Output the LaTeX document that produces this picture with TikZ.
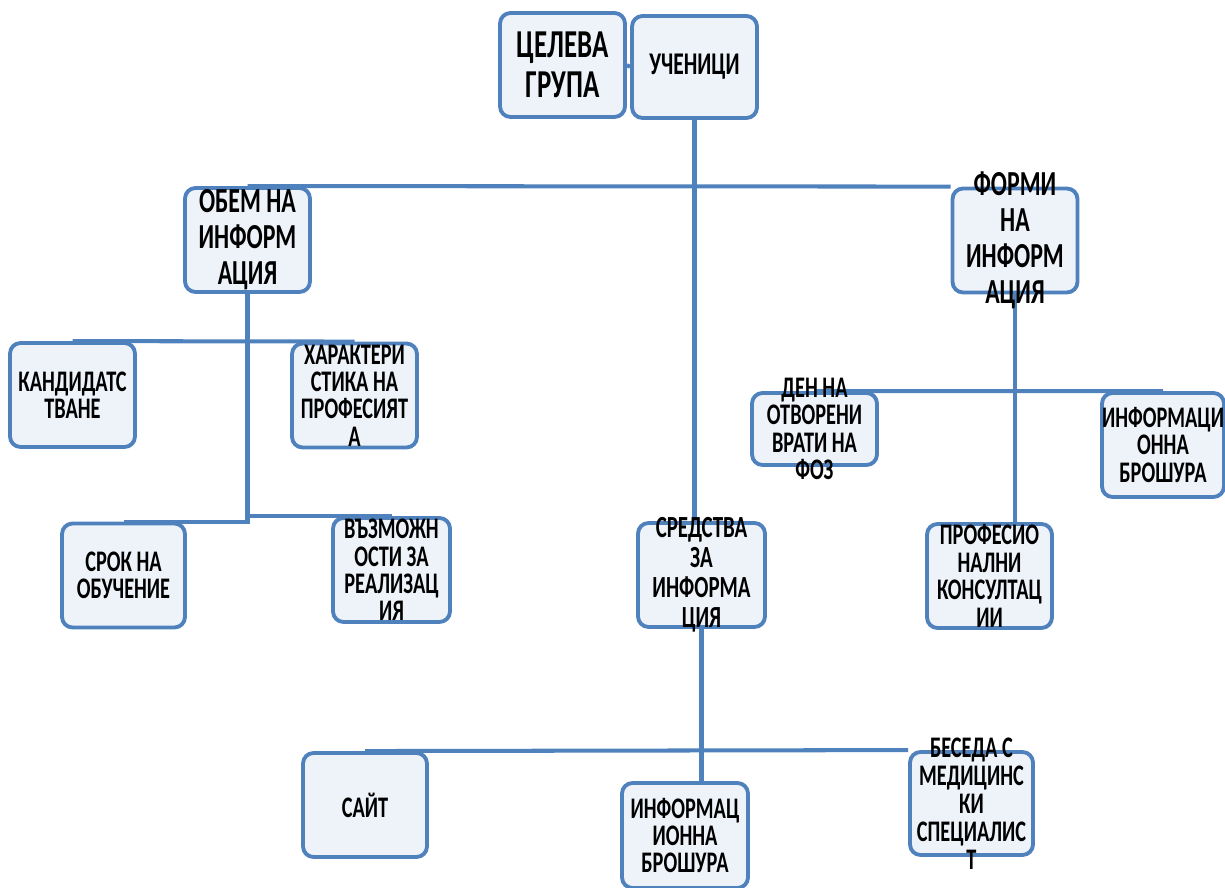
\documentclass[tikz,border=0pt]{standalone}
\usepackage{fontspec}
\setmainfont{Carlito}[FakeStretch=0.68]
\usetikzlibrary{calc}
\usetikzlibrary{backgrounds}
\definecolor{linkblue}{HTML}{4F81BD}
\definecolor{boxfill}{HTML}{EEF3FA}
\tikzset{
 blk/.style={draw=linkblue, fill=boxfill, line width=2.2pt, rounded corners=6pt, minimum width=2.5cm, minimum height=2.08cm, inner sep=0},
 txt/.style={font=\bfseries\fontsize{17}{15.6}\selectfont, align=center, inner sep=0},
 txtmid/.style={txt, font=\bfseries\fontsize{18}{19}\selectfont},
 txtbig/.style={txt, font=\bfseries\fontsize{20}{20.5}\selectfont},
 txthead/.style={txt, font=\bfseries\fontsize{22.5}{22.8}\selectfont},
 link/.style={linkblue, line width=2.3pt},
}
\begin{document}
\begin{tikzpicture}[x=0.02cm, y=-0.02cm]
\useasboundingbox (0,0) rectangle (1225,888);
% top
\node[blk, label={[txthead]center:{ЦЕЛЕВА\\ГРУПА}}] (celeva) at (562.5,65) {};
\node[blk, minimum height=2.04cm, label={[txtmid]center:{УЧЕНИЦИ}}] (ucenici) at (694.5,67) {};
% second row
\node[blk, label={[txtbig]center:{ОБЕМ НА\\ИНФОРМ\\АЦИЯ}}] (obem) at (247.5,240) {};
\node[blk, label={[txtbig]center:{ФОРМИ\\НА\\ИНФОРМ\\АЦИЯ}}] (formi) at (1015,240.5) {};
% left branch
\node[blk, label={[txt]center:{КАНДИДАТС\\ТВАНЕ}}] (kand) at (72.5,395) {};
\node[blk, label={[txt]center:{ХАРАКТЕРИ\\СТИКА НА\\ПРОФЕСИЯТ\\А}}] (harak) at (354.5,395.5) {};
\node[blk, minimum width=2.46cm, label={[txt]center:{СРОК НА\\ОБУЧЕНИЕ}}] (srok) at (123.5,575.5) {};
\node[blk, minimum width=2.34cm, label={[txt]center:{ВЪЗМОЖН\\ОСТИ ЗА\\РЕАЛИЗАЦ\\ИЯ}}] (vazm) at (391.5,570) {};
% right branch
\node[blk, minimum height=1.44cm, label={[txt]center:{ДЕН НА\\ОТВОРЕНИ\\ВРАТИ НА\\ФОЗ}}] (den) at (814.5,429) {};
\node[blk, minimum width=2.44cm, label={[txt]center:{ИНФОРМАЦИ\\ОННА\\БРОШУРА}}] (broshF) at (1163,445) {};
\node[blk, label={[txt]center:{ПРОФЕСИО\\НАЛНИ\\КОНСУЛТАЦ\\ИИ}}] (prof) at (989.5,576) {};
% middle branch
\node[blk, minimum width=2.54cm, label={[txt, font=\bfseries\fontsize{17.5}{17}\selectfont]center:{СРЕДСТВА\\ЗА\\ИНФОРМА\\ЦИЯ}}] (sredstva) at (701.5,575) {};
\node[blk, minimum width=2.48cm, label={[txt]center:{САЙТ}}] (sait) at (365,805) {};
\node[blk, minimum width=2.52cm, minimum height=2.1cm, label={[txt]center:{ИНФОРМАЦ\\ИОННА\\БРОШУРА}}] (broshS) at (685,835.5) {};
\node[blk, minimum width=2.46cm, minimum height=2.06cm, label={[txt, font=\bfseries\fontsize{17}{16}\selectfont]center:{БЕСЕДА С\\МЕДИЦИНС\\КИ\\СПЕЦИАЛИС\\Т}}] (beseda) at (971.5,803.5) {};
% connectors
\begin{scope}[on background layer]
\draw[link] (celeva.east) -- (ucenici.west);
\draw[link] (ucenici.south) -- (ucenici.south |- sredstva.north);
\draw[link] (obem.north) -- (formi.north west);
\draw[link] (obem.south) |- (srok.north);
\draw[link] (obem.south) |- (vazm.north);
\draw[link] (kand.north) -- (harak.north);
\draw[link] (formi.south) -- (formi.south |- prof.north);
\draw[link] (den.north) -- (broshF.north);
\draw[link] (sredstva.south) -- (sredstva.south |- broshS.north);
\draw[link] (sait.north) -- (beseda.north west);
\end{scope}
\end{tikzpicture}
\end{document}
